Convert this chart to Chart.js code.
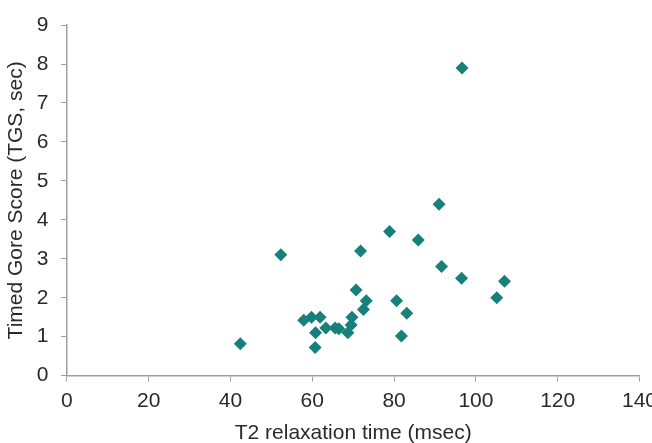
<!DOCTYPE html>
<html>
<head>
<meta charset="utf-8">
<script src="https://cdn.jsdelivr.net/npm/chart.js@4.4.1/dist/chart.umd.min.js"></script>
<style>
  html, body { margin: 0; padding: 0; background: #fff; }
  #wrap { width: 652px; height: 443px; }
</style>
</head>
<body>
<div id="wrap"><canvas id="t2Chart" width="652" height="443"></canvas></div>
<script>
// T2 relaxation time (msec) against timed Gore score (sec)
const t2Times = [96.6, 91.0, 78.9, 85.9, 52.3, 71.8, 91.6, 96.5, 107.0, 105.1,
  70.7, 73.2, 72.5, 80.6, 83.1, 81.8, 42.4, 60.7, 60.8, 57.9,
  59.8, 61.9, 63.3, 65.6, 66.5, 69.7, 69.5, 68.7]
const tgsScores = [7.9, 4.4, 3.7, 3.48, 3.1, 3.2, 2.8, 2.5, 2.42, 2.0,
  2.2, 1.92, 1.7, 1.92, 1.6, 1.02, 0.82, 0.72, 1.1, 1.42,
  1.5, 1.5, 1.22, 1.22, 1.2, 1.5, 1.3, 1.1]
const xTicks = [0, 20, 40, 60, 80, 100, 120, 140]
const yTicks = [0, 1, 2, 3, 4, 5, 6, 7, 8, 9]

const axisGray = "#a0a0a0"
const textColor = "#2a2a2a"
const tickFont = { family: "'Liberation Sans', Arial, sans-serif", size: 21 }

const points = t2Times.map((t, i) => ({ x: t, y: tgsScores[i] }))

const ctx = document.getElementById("t2Chart").getContext("2d")
new Chart(ctx, {
  type: "scatter",
  data: {
    datasets: [{
      label: "TGS",
      data: points,
      pointStyle: "rectRot",
      pointRadius: 6.5,
      pointHoverRadius: 6.5,
      backgroundColor: "#17807b",
      borderColor: "#17807b",
      borderWidth: 0
    }]
  },
  options: {
    responsive: false,
    animation: false,
    layout: { padding: { top: 16, right: 12.5, left: 4, bottom: -3 } },
    plugins: {
      legend: { display: false },
      tooltip: { enabled: false }
    },
    scales: {
      x: {
        type: "linear",
        min: 0,
        max: 140,
        afterBuildTicks: (scale) => { scale.ticks = xTicks.map(v => ({ value: v })) },
        // let the last tick label run off the right edge
        afterFit: (scale) => { scale.paddingRight = 0 },
        grid: { drawOnChartArea: false, color: axisGray, tickLength: 6 },
        border: { color: axisGray, width: 1.5 },
        ticks: { color: textColor, font: tickFont, padding: 7, maxRotation: 0 },
        title: {
          display: true,
          text: "T2 relaxation time (msec)",
          color: textColor,
          font: tickFont,
          padding: { top: 0, bottom: 0 }
        }
      },
      y: {
        type: "linear",
        min: 0,
        max: 9,
        afterBuildTicks: (scale) => { scale.ticks = yTicks.map(v => ({ value: v })) },
        grid: { drawOnChartArea: false, color: axisGray, tickLength: 6 },
        border: { color: axisGray, width: 1.5 },
        ticks: { color: textColor, font: tickFont, padding: 12.5 },
        title: {
          display: true,
          text: "Timed Gore Score (TGS, sec)",
          color: textColor,
          font: tickFont,
          padding: { top: 0, bottom: -5 }
        }
      }
    }
  }
})
</script>
</body>
</html>
